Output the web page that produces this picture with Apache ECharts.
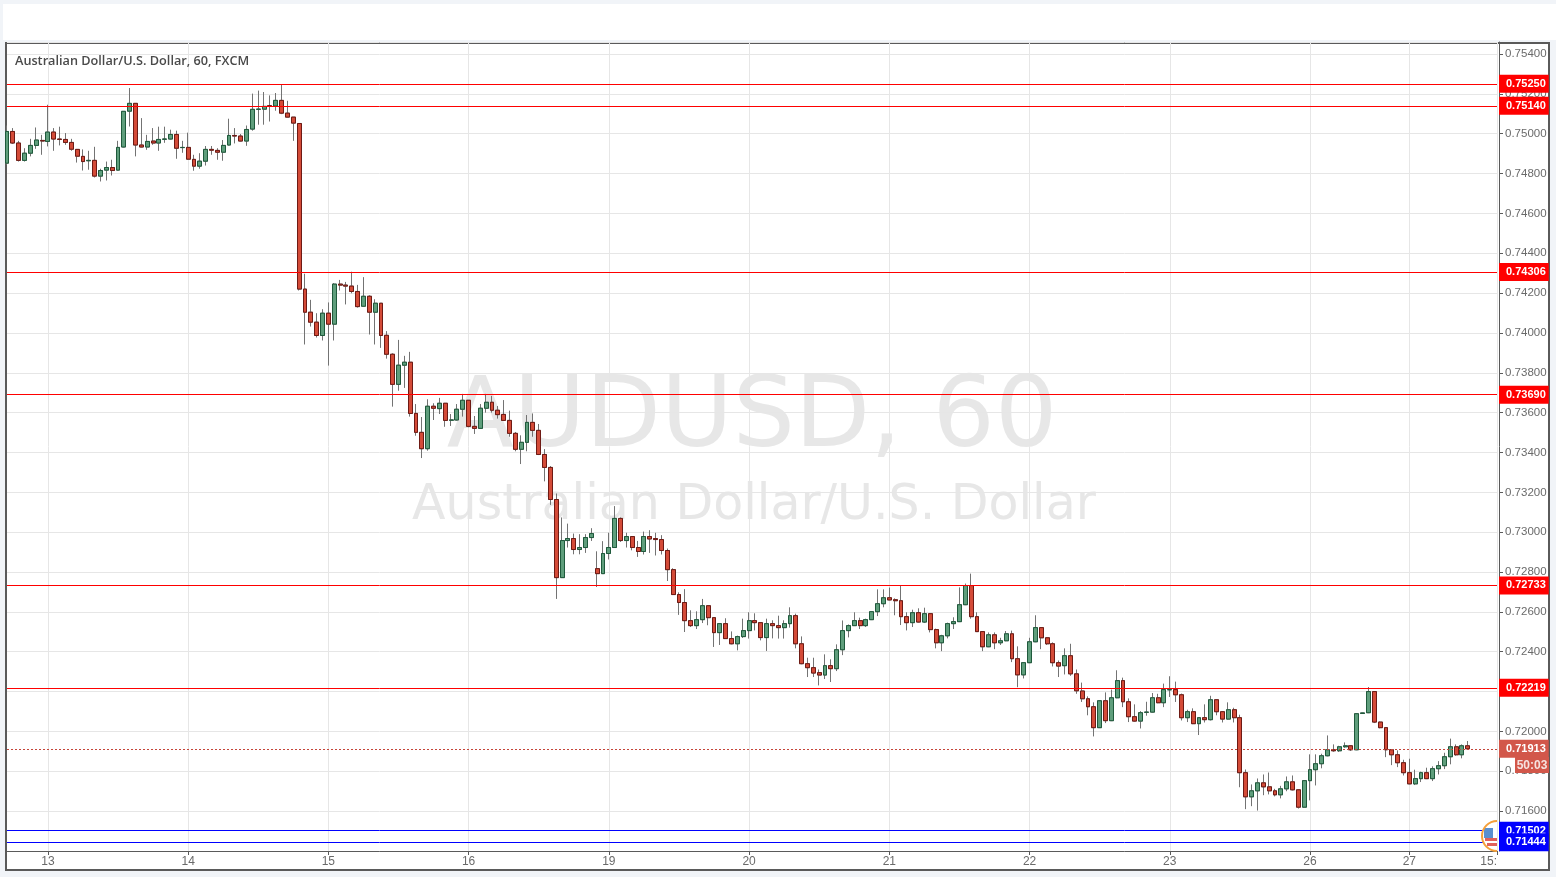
<!DOCTYPE html>
<html><head><meta charset="utf-8">
<style>
html,body{margin:0;padding:0;background:#f1f4f8;width:1556px;height:877px;overflow:hidden}
#strip{position:absolute;left:3px;top:4px;width:1553px;height:36px;background:#fff}
#frame{position:absolute;left:5px;top:42px;width:1545px;height:829px;box-sizing:border-box;border:2px solid #5a5a5a;background:#fff}
#c{position:absolute;left:0;top:0;width:1556px;height:877px}
</style>
<script src="https://cdn.jsdelivr.net/npm/echarts@6/dist/echarts.min.js"></script>
</head><body>
<div id="strip"></div><div id="frame"></div><div id="c"></div>
<script>
const opens=[
0.74852,0.75011,0.74953,0.74866,0.74902,0.74941,0.74966,0.74961,0.75008,0.74973,
0.74971,0.74956,0.74921,0.74886,0.74864,0.74866,0.74787,0.74817,0.74830,0.74817,
0.74933,0.75113,0.75152,0.74943,0.74933,0.74963,0.74953,0.74972,0.74973,0.74996,
0.74930,0.74931,0.74871,0.74837,0.74862,0.74921,0.74916,0.74907,0.74943,0.74991,
0.74988,0.74963,0.75023,0.75122,0.75123,0.75140,0.75139,0.75167,0.75103,0.75083,
0.75051,0.74220,0.74104,0.74054,0.73987,0.74099,0.74044,0.74245,0.74240,0.74235,
0.74208,0.74134,0.74184,0.74104,0.74149,0.73988,0.73893,0.73742,0.73838,0.73853,
0.73596,0.73501,0.73419,0.73632,0.73620,0.73647,0.73562,0.73563,0.73617,0.73662,
0.73531,0.73521,0.73622,0.73652,0.73612,0.73591,0.73561,0.73496,0.73416,0.73451,
0.73551,0.73511,0.73390,0.73325,0.73164,0.72772,0.72958,0.72968,0.72913,0.72923,
0.72973,0.72817,0.72792,0.72893,0.72923,0.73069,0.72958,0.72978,0.72923,0.72903,
0.72978,0.72968,0.72963,0.72908,0.72812,0.72687,0.72647,0.72556,0.72531,0.72561,
0.72631,0.72571,0.72496,0.72541,0.72466,0.72440,0.72476,0.72506,0.72556,0.72546,
0.72471,0.72541,0.72531,0.72521,0.72541,0.72581,0.72440,0.72340,0.72320,0.72295,
0.72283,0.72330,0.72315,0.72410,0.72506,0.72531,0.72556,0.72531,0.72561,0.72601,
0.72641,0.72671,0.72661,0.72656,0.72576,0.72546,0.72596,0.72549,0.72591,0.72511,
0.72445,0.72480,0.72541,0.72551,0.72636,0.72732,0.72576,0.72501,0.72425,0.72485,
0.72445,0.72455,0.72490,0.72365,0.72284,0.72345,0.72450,0.72521,0.72470,0.72440,
0.72345,0.72330,0.72380,0.72289,0.72203,0.72164,0.72124,0.72019,0.72154,0.72054,
0.72169,0.72255,0.72149,0.72074,0.72052,0.72096,0.72097,0.72169,0.72144,0.72209,
0.72210,0.72184,0.72069,0.72099,0.72039,0.72069,0.72059,0.72159,0.72099,0.72062,
0.72109,0.72069,0.71793,0.71672,0.71702,0.71742,0.71722,0.71702,0.71682,0.71712,
0.71747,0.71707,0.71620,0.71753,0.71808,0.71838,0.71878,0.71908,0.71903,0.71923,
0.71928,0.71908,0.72090,0.72094,0.72200,0.72047,0.72019,0.71908,0.71883,0.71843,
0.71793,0.71737,0.71763,0.71793,0.71763,0.71813,0.71828,0.71873,0.71923,0.71883,
0.71928];
const closes=[
0.75011,0.74953,0.74866,0.74902,0.74941,0.74968,0.74963,0.75008,0.74973,0.74971,
0.74956,0.74922,0.74887,0.74860,0.74866,0.74787,0.74815,0.74830,0.74815,0.74931,
0.75112,0.75152,0.74943,0.74933,0.74961,0.74953,0.74971,0.74973,0.74996,0.74927,
0.74931,0.74872,0.74837,0.74862,0.74921,0.74917,0.74907,0.74941,0.74991,0.74988,
0.74963,0.75021,0.75122,0.75123,0.75137,0.75139,0.75167,0.75103,0.75083,0.75053,
0.74220,0.74104,0.74054,0.73987,0.74099,0.74044,0.74245,0.74240,0.74235,0.74208,
0.74132,0.74184,0.74104,0.74149,0.73987,0.73893,0.73742,0.73838,0.73853,0.73596,
0.73501,0.73419,0.73632,0.73622,0.73647,0.73561,0.73563,0.73617,0.73662,0.73531,
0.73521,0.73622,0.73652,0.73612,0.73590,0.73561,0.73496,0.73416,0.73451,0.73551,
0.73511,0.73390,0.73325,0.73164,0.72772,0.72958,0.72968,0.72913,0.72923,0.72973,
0.72993,0.72792,0.72893,0.72923,0.73069,0.72958,0.72978,0.72923,0.72903,0.72978,
0.72966,0.72963,0.72908,0.72812,0.72687,0.72647,0.72556,0.72531,0.72561,0.72631,
0.72571,0.72496,0.72541,0.72466,0.72440,0.72476,0.72506,0.72556,0.72546,0.72471,
0.72541,0.72531,0.72521,0.72541,0.72581,0.72440,0.72340,0.72320,0.72293,0.72283,
0.72330,0.72315,0.72410,0.72506,0.72531,0.72556,0.72531,0.72561,0.72601,0.72641,
0.72671,0.72660,0.72656,0.72576,0.72546,0.72596,0.72549,0.72591,0.72511,0.72445,
0.72480,0.72541,0.72551,0.72636,0.72732,0.72576,0.72501,0.72425,0.72485,0.72445,
0.72455,0.72490,0.72365,0.72284,0.72345,0.72450,0.72521,0.72470,0.72440,0.72345,
0.72328,0.72380,0.72289,0.72204,0.72164,0.72124,0.72019,0.72154,0.72054,0.72169,
0.72255,0.72149,0.72074,0.72052,0.72094,0.72097,0.72169,0.72144,0.72210,0.72210,
0.72184,0.72069,0.72099,0.72039,0.72069,0.72059,0.72159,0.72099,0.72062,0.72109,
0.72069,0.71793,0.71672,0.71702,0.71742,0.71722,0.71702,0.71682,0.71712,0.71747,
0.71707,0.71620,0.71753,0.71808,0.71838,0.71878,0.71908,0.71903,0.71923,0.71928,
0.71908,0.72089,0.72093,0.72200,0.72047,0.72019,0.71908,0.71883,0.71843,0.71793,
0.71737,0.71763,0.71793,0.71763,0.71813,0.71828,0.71873,0.71923,0.71883,0.71928,
0.71913];
const lows=[
0.74844,0.74948,0.74860,0.74860,0.74886,0.74924,0.74894,0.74936,0.74914,0.74941,
0.74944,0.74914,0.74855,0.74815,0.74819,0.74780,0.74760,0.74765,0.74790,0.74815,
0.74931,0.75036,0.74886,0.74931,0.74919,0.74944,0.74914,0.74954,0.74971,0.74874,
0.74904,0.74871,0.74814,0.74824,0.74840,0.74894,0.74869,0.74864,0.74941,0.74951,
0.74961,0.74939,0.75015,0.75045,0.75045,0.75061,0.75115,0.75098,0.75082,0.74964,
0.74213,0.73942,0.74032,0.73977,0.73962,0.73836,0.73962,0.74213,0.74143,0.74199,
0.74127,0.74132,0.73992,0.73942,0.73925,0.73871,0.73630,0.73710,0.73724,0.73580,
0.73484,0.73372,0.73409,0.73563,0.73593,0.73529,0.73533,0.73560,0.73580,0.73526,
0.73493,0.73519,0.73600,0.73600,0.73570,0.73560,0.73479,0.73406,0.73342,0.73406,
0.73479,0.73387,0.73255,0.73137,0.72665,0.72770,0.72923,0.72889,0.72889,0.72896,
0.72956,0.72725,0.72790,0.72863,0.72921,0.72951,0.72923,0.72909,0.72876,0.72888,
0.72896,0.72883,0.72888,0.72755,0.72685,0.72585,0.72499,0.72524,0.72514,0.72544,
0.72533,0.72424,0.72434,0.72464,0.72437,0.72407,0.72469,0.72466,0.72507,0.72457,
0.72404,0.72467,0.72466,0.72466,0.72521,0.72417,0.72337,0.72273,0.72273,0.72231,
0.72263,0.72248,0.72303,0.72383,0.72472,0.72529,0.72514,0.72524,0.72559,0.72579,
0.72623,0.72658,0.72583,0.72534,0.72507,0.72524,0.72547,0.72544,0.72497,0.72417,
0.72403,0.72467,0.72514,0.72549,0.72634,0.72566,0.72499,0.72403,0.72423,0.72413,
0.72434,0.72453,0.72348,0.72222,0.72266,0.72343,0.72448,0.72413,0.72434,0.72326,
0.72273,0.72286,0.72279,0.72189,0.72148,0.72081,0.71975,0.72017,0.72042,0.72052,
0.72167,0.72122,0.72047,0.72049,0.72015,0.72079,0.72095,0.72142,0.72122,0.72173,
0.72148,0.72055,0.72047,0.72037,0.71982,0.72045,0.72055,0.72081,0.72045,0.72060,
0.72045,0.71720,0.71610,0.71625,0.71603,0.71680,0.71684,0.71674,0.71664,0.71700,
0.71704,0.71613,0.71618,0.71654,0.71729,0.71815,0.71875,0.71898,0.71897,0.71918,
0.71902,0.71906,0.72088,0.72092,0.72042,0.72016,0.71871,0.71831,0.71821,0.71779,
0.71735,0.71731,0.71746,0.71761,0.71751,0.71784,0.71811,0.71835,0.71878,0.71865,
0.71912];
const highs=[
0.75041,0.75028,0.74964,0.74927,0.74974,0.75031,0.74994,0.75145,0.75028,0.75035,
0.75003,0.74974,0.74921,0.74921,0.74914,0.74934,0.74824,0.74860,0.74869,0.74964,
0.75112,0.75229,0.75152,0.75078,0.74994,0.75028,0.75035,0.75035,0.75020,0.75015,
0.74964,0.75005,0.74894,0.74902,0.74938,0.74938,0.74927,0.74968,0.75075,0.75028,
0.74998,0.75041,0.75201,0.75216,0.75209,0.75192,0.75204,0.75246,0.75165,0.75083,
0.75051,0.74297,0.74166,0.74099,0.74119,0.74153,0.74250,0.74266,0.74256,0.74307,
0.74241,0.74280,0.74189,0.74169,0.74149,0.74009,0.73898,0.73965,0.73885,0.73905,
0.73643,0.73578,0.73667,0.73647,0.73674,0.73647,0.73593,0.73643,0.73694,0.73662,
0.73583,0.73643,0.73694,0.73684,0.73633,0.73663,0.73610,0.73503,0.73486,0.73588,
0.73596,0.73543,0.73417,0.73332,0.73194,0.73074,0.73043,0.72993,0.72990,0.72990,
0.73020,0.72904,0.72955,0.72997,0.73131,0.73074,0.72997,0.72980,0.72956,0.73003,
0.73010,0.72997,0.72985,0.72918,0.72819,0.72698,0.72714,0.72608,0.72603,0.72665,
0.72633,0.72573,0.72543,0.72568,0.72502,0.72481,0.72566,0.72598,0.72593,0.72548,
0.72566,0.72558,0.72581,0.72558,0.72623,0.72591,0.72477,0.72370,0.72370,0.72311,
0.72387,0.72362,0.72437,0.72557,0.72537,0.72598,0.72571,0.72566,0.72603,0.72713,
0.72713,0.72722,0.72668,0.72732,0.72598,0.72611,0.72618,0.72621,0.72593,0.72516,
0.72485,0.72546,0.72573,0.72723,0.72742,0.72792,0.72598,0.72503,0.72497,0.72497,
0.72470,0.72504,0.72506,0.72427,0.72347,0.72470,0.72583,0.72523,0.72472,0.72447,
0.72356,0.72417,0.72440,0.72311,0.72245,0.72176,0.72146,0.72156,0.72196,0.72210,
0.72307,0.72270,0.72166,0.72136,0.72102,0.72149,0.72193,0.72189,0.72240,0.72277,
0.72250,0.72190,0.72109,0.72116,0.72071,0.72136,0.72179,0.72161,0.72102,0.72146,
0.72119,0.72084,0.71809,0.71734,0.71764,0.71784,0.71794,0.71712,0.71727,0.71774,
0.71779,0.71709,0.71755,0.71885,0.71885,0.71888,0.71980,0.71935,0.71928,0.71945,
0.71930,0.72091,0.72094,0.72223,0.72202,0.72049,0.72021,0.71910,0.71905,0.71858,
0.71863,0.71808,0.71798,0.71818,0.71825,0.71851,0.71893,0.71964,0.71935,0.71935,
0.71952];
const dayTicks={7:'13',31:'14',55:'15',79:'16',103:'19',127:'20',151:'21',175:'22',199:'23',223:'26',240:'27',255:'15:'};
const categories=Array.from({length:256},(_,i)=>String(i));
const redLevels=[0.7525,0.7514,0.74306,0.7369,0.72733,0.72219];
const blueLevels=[0.71502,0.71444];
const lastPrice=0.71913;
const countdown='50:03';
const titleText='Australian Dollar/U.S. Dollar, 60, FXCM';
const watermarkTop='AUDUSD, 60';
const watermarkBottom='Australian Dollar/U.S. Dollar';
const FONT='"Liberation Sans",Arial,sans-serif';
const C={up:'#5f9e7c',upB:'#1f5a3c',dn:'#d44b38',dnB:'#6e1a14',wick:'#737373',grid:'#e6e6e6',axis:'#5a5a5a',text:'#6a6a6a',last:'#d2574a'};

const full=opens.map((o,i)=>[o,closes[i],lows[i],highs[i]]);
const bodies=opens.map((o,i)=>[o,closes[i],Math.min(o,closes[i]),Math.max(o,closes[i])]);
function levelLine(v,color,dashed){
  return {yAxis:v,lineStyle:{color:dashed?'#c4453a':color,width:1,type:dashed?[2,2]:'solid'},
    label:{show:true,position:'end',distance:2,formatter:()=>v.toFixed(5),color:'#fff',fontFamily:FONT,
      fontSize:11,fontWeight:'bold',lineHeight:12,backgroundColor:color,padding:[3,3,3,7]}};
}
const chart=echarts.init(document.getElementById('c'),null,{renderer:'canvas',width:1556,height:877});
chart.setOption({
  animation:false,
  backgroundColor:'transparent',
  grid:{left:7,top:42,width:1490,height:809,containLabel:false},
  xAxis:{type:'category',data:categories,boundaryGap:false,
    axisLine:{show:true,lineStyle:{color:C.axis,width:1}},
    axisTick:{show:true,length:4,interval:i=>i in dayTicks,lineStyle:{color:C.axis}},
    axisLabel:{show:true,interval:i=>i in dayTicks,formatter:(v,i)=>dayTicks[i]||'',color:C.text,fontFamily:FONT,fontSize:12,margin:5,alignMaxLabel:'right'},
    splitLine:{show:true,interval:i=>i in dayTicks,lineStyle:{color:C.grid,width:1}}},
  yAxis:{type:'value',position:'right',offset:2,min:0.714,max:0.7546,interval:0.002,
    axisLine:{show:true,lineStyle:{color:C.axis,width:1}},
    axisTick:{show:true,length:4,lineStyle:{color:C.axis}},
    axisLabel:{color:C.text,fontFamily:FONT,fontSize:11.5,margin:6,showMinLabel:false,showMaxLabel:false,formatter:v=>v.toFixed(5)},
    splitLine:{show:true,lineStyle:{color:C.grid,width:1}}},
  series:[
    {name:'wicks',type:'candlestick',data:full,barWidth:4.4,silent:true,z:3,
      itemStyle:{color:C.up,color0:C.dn,borderColor:C.wick,borderColor0:C.wick,borderWidth:1}},
    {name:'AUDUSD',type:'candlestick',data:bodies,barWidth:4.4,silent:true,z:4,
      itemStyle:{color:C.up,color0:C.dn,borderColor:C.upB,borderColor0:C.dnB,borderWidth:1},
      markLine:{silent:true,symbol:'none',animation:false,precision:5,
        data:[...redLevels.map(v=>levelLine(v,'#ff0000')),...blueLevels.map(v=>levelLine(v,'#0000ff')),levelLine(lastPrice,C.last,true)]}}
  ],
  graphic:[
    {type:'text',z:0,silent:true,style:{x:752,y:421,text:watermarkTop,align:'center',verticalAlign:'middle',font:'98px "DejaVu Sans"',fill:'#e7e7e7'}},
    {type:'text',z:0,silent:true,style:{x:754,y:506,text:watermarkBottom,align:'center',verticalAlign:'middle',font:'49px "DejaVu Sans"',fill:'#e7e7e7'}},
    {type:'text',z:10,silent:true,style:{x:15,y:61,text:titleText,verticalAlign:'middle',font:'600 12.7px "Open Sans"',fill:'#4a4a4a'}},
    {type:'rect',z:10,silent:true,shape:{x:1515,y:757,width:34,height:16},style:{fill:C.last}},
    {type:'text',z:11,silent:true,style:{x:1532,y:765.5,text:countdown,align:'center',verticalAlign:'middle',font:'bold 12px "Liberation Sans"',fill:'#f6e2df'}},
    {type:'sector',z:9,silent:true,shape:{cx:1497,cy:836,r:15,r0:0,startAngle:Math.PI/2,endAngle:Math.PI*1.5},style:{fill:'#fff'}},
    {type:'rect',z:9,silent:true,shape:{x:1485,y:838,width:12,height:3},style:{fill:'#e0605c'}},
    {type:'rect',z:9,silent:true,shape:{x:1487,y:843,width:10,height:3},style:{fill:'#e0605c'}},
    {type:'rect',z:9,silent:true,shape:{x:1484,y:828,width:9,height:10},style:{fill:'#5a8fd0'}},
    {type:'arc',z:9,silent:true,shape:{cx:1497,cy:836,r:15,startAngle:Math.PI/2,endAngle:Math.PI*1.5},style:{fill:'none',stroke:'#f5a03a',lineWidth:2}}
  ]
});
</script>
</body></html>
